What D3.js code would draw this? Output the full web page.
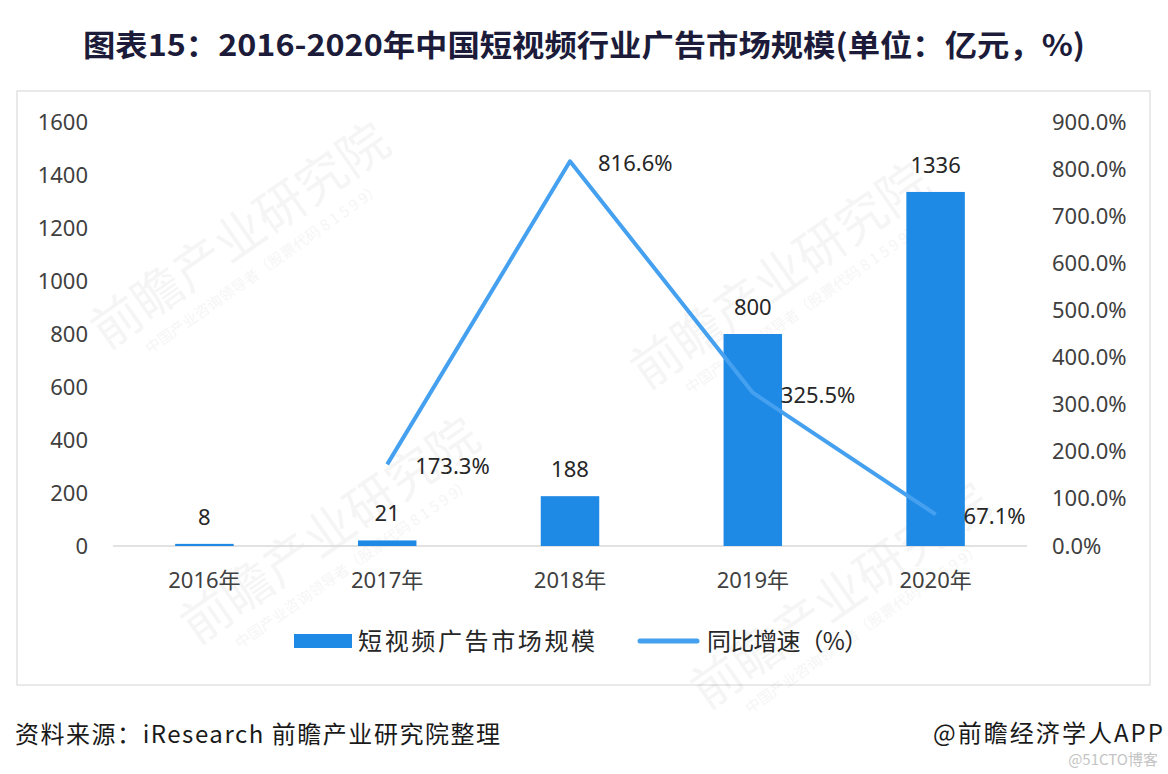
<!DOCTYPE html>
<html>
<head>
<meta charset="utf-8">
<script src="https://cdn.jsdelivr.net/npm/d3@7"></script>
<style>
  body { margin: 0; background: #fff; }
  text { font-family: "Noto Sans", "Noto Sans CJK SC", sans-serif; }
</style>
</head>
<body>
<div id="chart"></div>
<script>
// data
var years = ["2016年", "2017年", "2018年", "2019年", "2020年"];
var adScale = [8, 21, 188, 800, 1336];
var growth = [null, 173.3, 816.6, 325.5, 67.1];
var leftTicks = [0, 200, 400, 600, 800, 1000, 1200, 1400, 1600];
var rightTicks = [0, 100, 200, 300, 400, 500, 600, 700, 800, 900];

var W = 1168, H = 774;
var svg = d3.select("#chart").append("svg")
    .attr("width", W)
    .attr("height", H);

// frame
svg.append("rect")
    .attr("x", 17).attr("y", 91)
    .attr("width", 1133).attr("height", 594)
    .attr("fill", "#fff").attr("stroke", "#d4d4d4");

// faint watermarks
var marks = [[250, 250], [790, 290], [340, 545], [850, 610]];
marks.forEach(function (m) {
    var g = svg.append("g")
        .attr("transform", "translate(" + m[0] + "," + m[1] + ") rotate(-35)")
        .attr("opacity", 0.035);
    g.append("text")
        .attr("text-anchor", "middle")
        .style("font-family", "Noto Sans CJK SC")
        .style("font-size", "50px")
        .attr("fill", "#000")
        .text("前瞻产业研究院");
    g.append("text")
        .attr("y", 28)
        .attr("text-anchor", "middle")
        .style("font-family", "Noto Sans CJK SC")
        .style("font-size", "15px")
        .attr("fill", "#000")
        .text("中国产业咨询领导者（股票代码 8 1 5 9 9）");
});

// title
svg.append("text")
    .attr("x", 83).attr("y", 56)
    .attr("textLength", 1002)
    .attr("lengthAdjust", "spacingAndGlyphs")
    .style("font-family", "Noto Sans CJK SC")
    .style("font-size", "30px")
    .style("font-weight", "bold")
    .attr("fill", "#1c1c3a")
    .text("图表15：2016-2020年中国短视频行业广告市场规模(单位：亿元，%)");

// scales
var x = d3.scaleBand().domain(years).range([113, 1027]);
var yL = d3.scaleLinear().domain([0, 1600]).range([546, 122]);
var yR = d3.scaleLinear().domain([0, 900]).range([546, 122]);
var barW = x.bandwidth() * 0.32;

// left axis
var axL = svg.append("g")
    .attr("transform", "translate(88,0)")
    .call(d3.axisLeft(yL).tickValues(leftTicks).tickSize(0).tickPadding(0)
        .tickFormat(d3.format("d")));
axL.select(".domain").remove();
axL.selectAll("text")
    .style("font-size", "22px")
    .style("font-family", "Noto Sans")
    .attr("fill", "#404040");

// right axis
var axR = svg.append("g")
    .attr("transform", "translate(1052,0)")
    .call(d3.axisRight(yR).tickValues(rightTicks).tickSize(0).tickPadding(0)
        .tickFormat(function (d) { return d.toFixed(1) + "%"; }));
axR.select(".domain").remove();
axR.selectAll("text")
    .style("font-size", "22px")
    .style("font-family", "Noto Sans")
    .attr("fill", "#404040");

// baseline
svg.append("line")
    .attr("x1", 113).attr("x2", 1027)
    .attr("y1", yL(0)).attr("y2", yL(0))
    .attr("stroke", "#d9d9d9").attr("stroke-width", 1.5);

// category labels
svg.selectAll(".cat")
    .data(years)
    .enter().append("text")
    .attr("class", "cat")
    .attr("x", function (d) { return x(d) + x.bandwidth() / 2; })
    .attr("y", 588)
    .attr("text-anchor", "middle")
    .style("font-size", "22px")
    .attr("fill", "#404040")
    .text(function (d) { return d; });

// bars
svg.selectAll(".bar")
    .data(adScale)
    .enter().append("rect")
    .attr("class", "bar")
    .attr("x", function (d, i) { return x(years[i]) + (x.bandwidth() - barW) / 2; })
    .attr("y", function (d) { return yL(d); })
    .attr("width", barW)
    .attr("height", function (d) { return yL(0) - yL(d); })
    .attr("fill", "#1f8ae6");

// bar labels
svg.selectAll(".blab")
    .data(adScale)
    .enter().append("text")
    .attr("class", "blab")
    .attr("x", function (d, i) { return x(years[i]) + x.bandwidth() / 2; })
    .attr("y", function (d) { return yL(d) - 19; })
    .attr("text-anchor", "middle")
    .style("font-size", "22px")
    .attr("fill", "#262626")
    .text(function (d) { return d; });

// growth line
var pts = growth.map(function (v, i) { return { y: years[i], v: v }; })
    .filter(function (d) { return d.v !== null; });
var line = d3.line()
    .x(function (d) { return x(d.y) + x.bandwidth() / 2; })
    .y(function (d) { return yR(d.v); });
svg.append("path")
    .datum(pts)
    .attr("d", line)
    .attr("fill", "none")
    .attr("stroke", "#45a1f0")
    .attr("stroke-width", 4)
    .attr("stroke-linejoin", "round");

svg.selectAll(".llab")
    .data(pts)
    .enter().append("text")
    .attr("class", "llab")
    .attr("x", function (d) { return x(d.y) + x.bandwidth() / 2 + 28; })
    .attr("y", function (d) { return yR(d.v) + 10; })
    .style("font-size", "22px")
    .attr("fill", "#262626")
    .text(function (d) { return d.v.toFixed(1) + "%"; });

// legend
svg.append("rect")
    .attr("x", 294).attr("y", 634)
    .attr("width", 58).attr("height", 14)
    .attr("fill", "#1f8ae6");
svg.append("text")
    .attr("x", 358).attr("y", 650)
    .attr("textLength", 237)
    .attr("lengthAdjust", "spacing")
    .style("font-family", "Noto Sans CJK SC")
    .style("font-size", "24px")
    .attr("fill", "#262626")
    .text("短视频广告市场规模");
svg.append("line")
    .attr("x1", 640).attr("x2", 697)
    .attr("y1", 641).attr("y2", 641)
    .attr("stroke", "#45a1f0").attr("stroke-width", 5)
    .attr("stroke-linecap", "round");
svg.append("text")
    .attr("x", 707).attr("y", 650)
    .attr("textLength", 161)
    .attr("lengthAdjust", "spacing")
    .style("font-family", "Noto Sans CJK SC")
    .style("font-size", "24px")
    .attr("fill", "#262626")
    .text("同比增速（%）");

// footer
svg.append("text")
    .attr("x", 15).attr("y", 743)
    .attr("textLength", 485)
    .attr("lengthAdjust", "spacing")
    .style("font-family", "Noto Sans CJK SC")
    .style("font-size", "24px")
    .attr("fill", "#1a1a1a")
    .text("资料来源：iResearch 前瞻产业研究院整理");
svg.append("text")
    .attr("x", 933).attr("y", 742)
    .attr("textLength", 230)
    .attr("lengthAdjust", "spacing")
    .style("font-family", "Noto Sans CJK SC")
    .style("font-size", "24px")
    .attr("fill", "#1a1a1a")
    .text("@前瞻经济学人APP");
svg.append("text")
    .attr("x", 1158).attr("y", 765)
    .attr("text-anchor", "end")
    .style("font-family", "Noto Sans CJK SC")
    .style("font-size", "15px")
    .attr("fill", "#c4c4c4")
    .text("@51CTO博客");
</script>
</body>
</html>
